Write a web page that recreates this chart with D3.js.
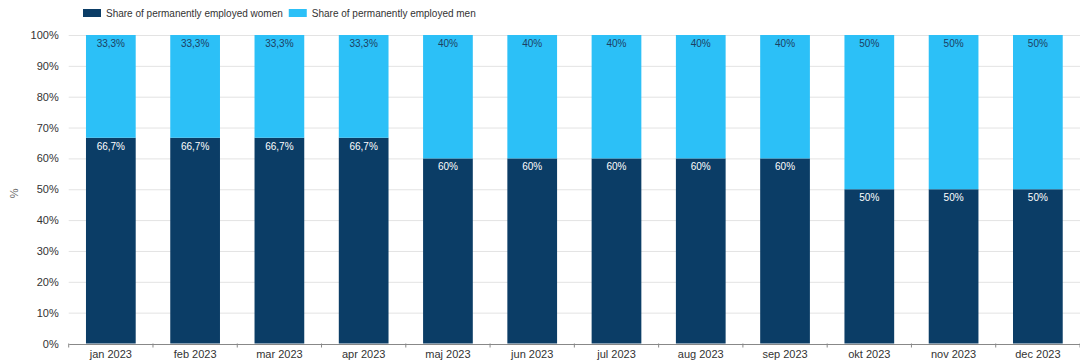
<!DOCTYPE html>
<html>
<head>
<meta charset="utf-8">
<script src="https://cdn.jsdelivr.net/npm/d3@7"></script>
<style>
  html, body { margin: 0; padding: 0; background: #fff; }
  svg { display: block; font-family: "Liberation Sans", Arial, sans-serif; }
</style>
</head>
<body>
<svg id="chart" width="1080" height="363"></svg>
<script>
// Monthly share of permanently employed women and men, 2023
const months = ["jan 2023", "feb 2023", "mar 2023", "apr 2023", "maj 2023", "jun 2023",
                "jul 2023", "aug 2023", "sep 2023", "okt 2023", "nov 2023", "dec 2023"];
const women = [66.7, 66.7, 66.7, 66.7, 60, 60, 60, 60, 60, 50, 50, 50];
const men   = [33.3, 33.3, 33.3, 33.3, 40, 40, 40, 40, 40, 50, 50, 50];
const seriesNames = ["Share of permanently employed women", "Share of permanently employed men"];
const yTicks = [0, 10, 20, 30, 40, 50, 60, 70, 80, 90, 100];

const colors = ["#0b3d66", "#2cc0f7"];
const labelColors = ["#ffffff", "#1d3f63"];

const svg = d3.select("#chart");
const margin = { top: 35, right: 0, bottom: 19.5, left: 68.7 };
const W = 1080, H = 363;

const x = d3.scaleBand().domain(months).range([margin.left, W - margin.right]).paddingInner(0.41).paddingOuter(0.205);
const y = d3.scaleLinear().domain([0, 100]).range([H - margin.bottom, margin.top]);

const fmt = v => (Number.isInteger(v) ? String(v) : v.toFixed(1).replace(".", ",")) + "%";

// Gridlines
svg.append("g")
  .selectAll("line")
  .data(yTicks.filter(t => t > 0))
  .join("line")
  .attr("x1", margin.left).attr("x2", W)
  .attr("y1", d => y(d) + 0.5).attr("y2", d => y(d) + 0.5)
  .attr("stroke", "#e3e3e3");

// Y axis labels
const yAxis = svg.append("g")
  .attr("transform", `translate(${margin.left - 10},0)`)
  .call(d3.axisLeft(y).tickValues(yTicks).tickFormat(d => d + "%").tickSize(0).tickPadding(0));
yAxis.select(".domain").remove();
yAxis.selectAll("text").attr("font-size", 11).attr("fill", "#333").attr("font-family", "Liberation Sans, Arial, sans-serif");

// Axis title
svg.append("text")
  .attr("transform", `translate(18,${(y(0) + y(100)) / 2 + 4}) rotate(-90)`)
  .attr("text-anchor", "middle")
  .attr("font-size", 11)
  .attr("fill", "#666")
  .text("%");

// Stacked bars
const rows = months.map((m, i) => ({ month: m, women: women[i], men: men[i] }));
const stack = d3.stack().keys(["women", "men"])(rows);

svg.append("g")
  .selectAll("g")
  .data(stack)
  .join("g")
  .attr("fill", (d, i) => colors[i])
  .selectAll("rect")
  .data(d => d)
  .join("rect")
  .attr("x", d => x(d.data.month))
  .attr("width", x.bandwidth())
  .attr("y", d => y(Math.min(100, d[1])))
  .attr("height", d => y(d[0]) - y(Math.min(100, d[1])));

// Value labels at the top of each segment
svg.append("g")
  .selectAll("g")
  .data(stack)
  .join("g")
  .attr("fill", (d, i) => labelColors[i])
  .selectAll("text")
  .data(d => d.map(p => ({ p, key: d.key })))
  .join("text")
  .attr("x", d => x(d.p.data.month) + x.bandwidth() / 2)
  .attr("y", d => y(Math.min(100, d.p[1])) + 12)
  .attr("text-anchor", "middle")
  .attr("font-size", 10)
  .text(d => fmt(d.p.data[d.key]));

// X axis
const xAxis = svg.append("g")
  .attr("transform", `translate(0,${y(0) + 0.5})`)
  .call(d3.axisBottom(x).tickSize(0).tickPadding(6));
xAxis.select(".domain").attr("stroke", "#888");
xAxis.selectAll("text").attr("font-size", 11).attr("fill", "#333").attr("font-family", "Liberation Sans, Arial, sans-serif");

// Boundary tick marks between months
svg.append("g")
  .selectAll("line")
  .data(d3.range(months.length + 1))
  .join("line")
  .attr("x1", i => margin.left + i * x.step()).attr("x2", i => margin.left + i * x.step())
  .attr("y1", y(0)).attr("y2", y(0) + 4)
  .attr("stroke", "#888");

// Legend
const legend = svg.append("g").attr("transform", "translate(83,8)");
let lx = 0;
seriesNames.forEach((name, i) => {
  const g = legend.append("g").attr("transform", `translate(${lx},0)`);
  g.append("rect").attr("width", 18).attr("height", 8).attr("y", 1).attr("fill", colors[i]);
  const t = g.append("text").attr("x", 23).attr("y", 9).attr("font-size", 10).attr("fill", "#333").text(name);
  lx += 23 + t.node().getComputedTextLength() + 6;
});
</script>
</body>
</html>
